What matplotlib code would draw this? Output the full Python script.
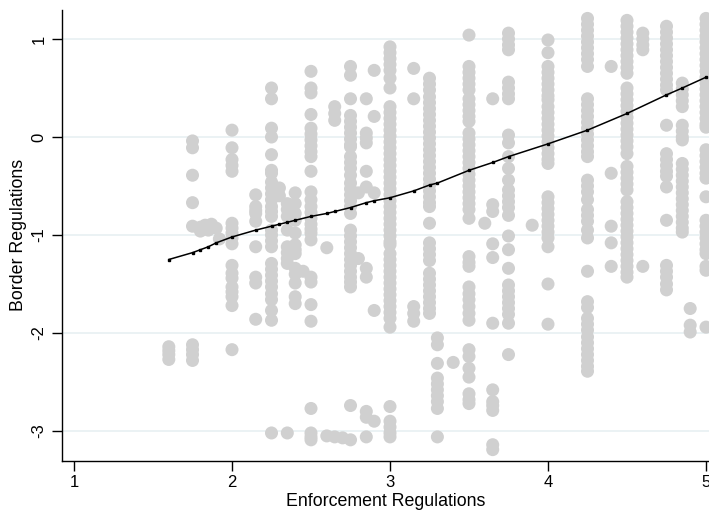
import matplotlib
matplotlib.use("Agg")
import matplotlib.pyplot as plt

plt.rcParams['font.family'] = ['Liberation Sans', 'DejaVu Sans']

# x columns (Enforcement Regulations) and the Border Regulations values at each
x_cols = [1.6, 1.75, 1.8, 1.83, 1.85, 1.87, 1.9, 1.92, 2.0, 2.15, 2.25, 2.3, 2.35, 2.4, 2.45,
          2.5, 2.6, 2.65, 2.7, 2.75, 2.8, 2.85, 2.9, 3.0, 3.15, 3.25, 3.3, 3.4, 3.5,
          3.6, 3.65, 3.75, 3.9, 4.0, 4.25, 4.4, 4.5, 4.6, 4.75, 4.85, 4.9, 5.0]

y_cols = [
    [-2.14, -2.18, -2.22, -2.27],
    [-0.04, -0.11, -0.39, -0.67, -0.91, -2.12, -2.17, -2.22, -2.28],
    [-0.92, -0.96],
    [-0.90],
    [-0.95],
    [-0.89],
    [-0.93],
    [-1.04],
    [0.07, -0.11, -0.23, -0.29, -0.35, -0.88, -0.93, -0.98, -1.03, -1.09, -1.31, -1.39,
     -1.44, -1.53, -1.58, -1.63, -1.72, -2.17],
    [-0.59, -0.71, -0.75, -0.78, -0.86, -1.12, -1.43, -1.49, -1.86],
    [0.50, 0.39, 0.09, 0.0, -0.18, -0.34, -0.37, -0.46, -0.52, -0.58, -0.64, -0.71, -0.76,
     -0.81, -0.95, -1.0, -1.06, -1.12, -1.29, -1.35, -1.41, -1.47, -1.53, -1.60, -1.66,
     -1.77, -1.87, -3.02],
    [-0.52, -0.60],
    [-0.68, -0.74, -0.81, -0.95, -1.12, -1.18, -1.24, -1.29, -3.02],
    [-0.57, -0.68, -0.78, -0.85, -0.98, -1.10, -1.15, -1.19, -1.34, -1.40, -1.49, -1.63, -1.70],
    [-1.37],
    [0.67, 0.50, 0.45, 0.23, 0.09, 0.03, -0.03, -0.09, -0.15, -0.20, -0.35, -0.56, -0.64,
     -0.71, -0.77, -0.83, -0.89, -0.94, -0.98, -1.05, -1.43, -1.48, -1.71, -1.88, -2.77,
     -3.02, -3.06, -3.09],
    [-1.13, -3.05],
    [0.31, 0.24, 0.17, -3.06],
    [-3.07],
    [0.72, 0.63, 0.39, 0.22, 0.16, 0.10, 0.04, -0.02, -0.08, -0.10, -0.20, -0.26, -0.32,
     -0.39, -0.47, -0.53, -0.59, -0.65, -0.71, -0.78, -0.95, -1.01, -1.07, -1.13, -1.19,
     -1.25, -1.31, -1.37, -1.43, -1.48, -1.53, -2.74, -3.09],
    [-0.57, -1.24],
    [0.39, 0.04, -0.01, -0.06, -0.35, -0.51, -1.34, -1.43, -2.80, -2.86, -3.06],
    [0.68, 0.21, -0.57, -1.77, -2.90],
    [0.92, 0.86, 0.80, 0.74, 0.68, 0.60, 0.50, 0.31, 0.25, 0.19, 0.13, 0.07, 0.01, -0.05,
     -0.11, -0.17, -0.23, -0.29, -0.35, -0.41, -0.47, -0.53, -0.59, -0.65, -0.71, -0.77,
     -0.83, -0.89, -0.95, -1.01, -1.07, -1.10, -1.19, -1.25, -1.31, -1.37, -1.43, -1.49,
     -1.55, -1.61, -1.67, -1.73, -1.79, -1.85, -1.94, -2.75, -2.90, -2.96, -3.02, -3.06],
    [0.70, 0.39, -1.73, -1.80, -1.88],
    [0.60, 0.54, 0.48, 0.41, 0.35, 0.29, 0.23, 0.17, 0.11, 0.05, -0.01, -0.07, -0.13, -0.19,
     -0.25, -0.31, -0.37, -0.43, -0.49, -0.55, -0.61, -0.67, -0.71, -0.88, -1.08, -1.14,
     -1.20, -1.26, -1.39, -1.45, -1.51, -1.57, -1.63, -1.69, -1.75, -1.80],
    [-2.05, -2.12, -2.31, -2.46, -2.52, -2.58, -2.64, -2.70, -2.77, -3.06],
    [-2.30],
    [1.04, 0.72, 0.66, 0.60, 0.54, 0.48, 0.39, 0.33, 0.27, 0.21, 0.16, 0.04, -0.02, -0.08,
     -0.14, -0.20, -0.26, -0.32, -0.38, -0.44, -0.50, -0.56, -0.62, -0.68, -0.74, -0.83,
     -1.22, -1.28, -1.32, -1.53, -1.60, -1.66, -1.73, -1.80, -1.87, -2.17, -2.24, -2.36,
     -2.45, -2.62, -2.68, -2.72],
    [-0.88],
    [0.39, -0.69, -0.76, -1.09, -1.23, -1.90, -2.58, -2.70, -2.74, -2.79, -3.14, -3.19],
    [1.06, 1.0, 0.94, 0.89, 0.56, 0.50, 0.44, 0.39, 0.02, -0.06, -0.20, -0.32, -0.44, -0.54,
     -0.60, -0.66, -0.72, -0.80, -1.01, -1.15, -1.34, -1.51, -1.57, -1.63, -1.69, -1.75,
     -1.81, -1.90, -2.22],
    [-0.90],
    [0.99, 0.86, 0.72, 0.66, 0.60, 0.54, 0.48, 0.42, 0.38, 0.31, 0.25, 0.19, 0.13, 0.07,
     0.01, -0.05, -0.11, -0.17, -0.23, -0.27, -0.61, -0.67, -0.73, -0.79, -0.85, -0.91,
     -0.97, -1.03, -1.12, -1.50, -1.91],
    [1.21, 1.15, 1.09, 1.03, 0.97, 0.91, 0.85, 0.79, 0.72, 0.39, 0.33, 0.27, 0.21, 0.15,
     0.09, 0.03, -0.03, -0.09, -0.15, -0.20, -0.44, -0.50, -0.56, -0.64, -0.74, -0.80,
     -0.86, -0.95, -1.03, -1.37, -1.68, -1.74, -1.85, -1.91, -1.97, -2.04, -2.10, -2.16,
     -2.22, -2.28, -2.34, -2.39],
    [0.72, -0.37, -0.91, -1.08, -1.32],
    [1.19, 1.13, 1.07, 1.01, 0.95, 0.89, 0.83, 0.77, 0.71, 0.65, 0.50, 0.44, 0.38, 0.32,
     0.26, 0.20, 0.14, 0.08, 0.02, -0.04, -0.10, -0.17, -0.30, -0.36, -0.42, -0.48, -0.54,
     -0.66, -0.72, -0.78, -0.84, -0.90, -0.96, -1.02, -1.08, -1.14, -1.20, -1.26, -1.32,
     -1.38, -1.43],
    [1.06, 1.0, 0.94, 0.89, -1.32],
    [1.13, 1.07, 1.01, 0.95, 0.89, 0.83, 0.77, 0.71, 0.65, 0.59, 0.53, 0.48, 0.12, -0.17,
     -0.23, -0.29, -0.35, -0.40, -0.51, -0.85, -1.31, -1.37, -1.43, -1.50, -1.56],
    [0.55, 0.49, 0.43, 0.37, 0.31, 0.12, 0.06, 0.0, -0.03, -0.27, -0.33, -0.39, -0.45,
     -0.51, -0.57, -0.63, -0.69, -0.75, -0.81, -0.87, -0.93, -0.97],
    [-1.75, -1.92, -1.99],
    [1.21, 1.15, 1.09, 1.03, 0.97, 0.91, 0.85, 0.79, 0.73, 0.67, 0.61, 0.55, 0.49, 0.43,
     0.37, 0.31, 0.25, 0.19, 0.13, 0.10, -0.13, -0.19, -0.25, -0.31, -0.37, -0.42, -0.61,
     -0.85, -0.91, -0.97, -1.03, -1.09, -1.15, -1.19, -1.32, -1.36, -1.94],
]

# smoothed (lowess) line
line_x = [1.6, 1.75, 1.8, 1.85, 1.9, 2.0, 2.15, 2.25, 2.3, 2.35, 2.4, 2.5, 2.6, 2.65, 2.75,
          2.85, 2.9, 3.0, 3.15, 3.25, 3.3, 3.5, 3.65, 3.75, 4.0, 4.25, 4.5, 4.75, 4.85, 5.0]
line_y = [-1.25, -1.18, -1.15, -1.12, -1.08, -1.02, -0.95, -0.91, -0.89, -0.87, -0.85,
          -0.81, -0.78, -0.76, -0.72, -0.67, -0.65, -0.62, -0.55, -0.49, -0.47, -0.34,
          -0.26, -0.20, -0.07, 0.07, 0.24, 0.43, 0.50, 0.61]

y_ticks = [-3, -2, -1, 0, 1]
x_ticks = [1, 2, 3, 4, 5]

fig = plt.figure(figsize=(7.09, 5.12), dpi=100)
ax = fig.add_axes([62 / 709, 1 - 460.7 / 512, 647 / 709, 450.7 / 512])

for yv in y_ticks:
    ax.axhline(yv, color='#e8f0f2', lw=1.2, zorder=0)

px, py = [], []
for xv, ys in zip(x_cols, y_cols):
    for yv in ys:
        px.append(xv)
        py.append(yv)
ax.scatter(px, py, s=88, color='#d0d0d0', edgecolors='none', zorder=2)

ax.plot(line_x, line_y, color='black', lw=1.1, marker='s', markersize=1.6, zorder=3)

ax.set_xlim(0.924, 5.019)
ax.set_ylim(-3.303, 1.296)
ax.set_xticks(x_ticks)
ax.set_yticks(y_ticks)
ax.set_xticklabels([str(t) for t in x_ticks])
ax.set_yticklabels([str(t) for t in y_ticks], rotation=90, va='center')

for s in ['top', 'right']:
    ax.spines[s].set_visible(False)
for s in ['left', 'bottom']:
    ax.spines[s].set_linewidth(1.0)

ax.tick_params(axis='both', direction='out', length=7, width=1.0, labelsize=12,
               colors='black')
ax.tick_params(axis='x', pad=3)
ax.tick_params(axis='y', pad=4)

ax.set_xlabel('Enforcement Regulations', fontsize=12.8)
ax.set_ylabel('Border Regulations', fontsize=12.8)
ax.xaxis.label.set_va('center')
ax.yaxis.label.set_va('center')
ax.xaxis.set_label_coords(0.5, (460.7 - 502) / 450.7)
ax.yaxis.set_label_coords((18.5 - 62) / 647, 0.5)

fig.savefig('out.png', dpi=100)
